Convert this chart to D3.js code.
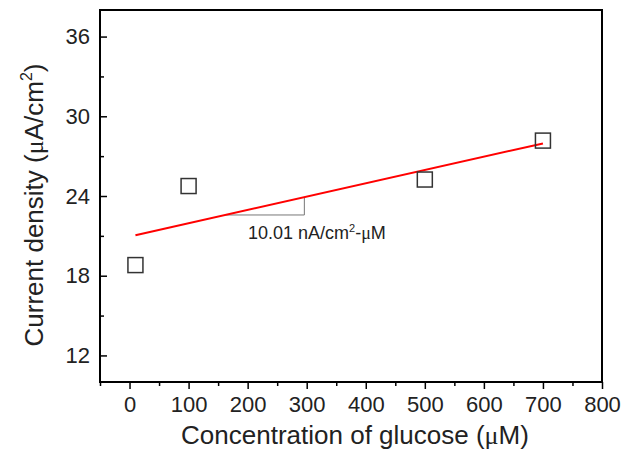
<!DOCTYPE html>
<html>
<head>
<meta charset="utf-8">
<script src="https://cdn.jsdelivr.net/npm/d3@7"></script>
<style>
  body { margin: 0; background: #fff; }
  text { font-family: Arial, "Liberation Sans", sans-serif; fill: #222; }
  .mu { font-family: "Liberation Serif", "DejaVu Serif", serif; }
</style>
</head>
<body>
<div id="app"></div>
<script>
// data
let concentration = [10, 100, 500, 700]
let currentDensity = [18.8, 24.75, 25.24, 28.17]
let xTicks = [0, 100, 200, 300, 400, 500, 600, 700, 800]
let yTicks = [12, 18, 24, 30, 36]
// linear fit (slope 10.01 nA/cm2-uM)
let fitRange = [10, 700]
let fitSlope = 0.01001
let fitIntercept = 20.95
let slopeMarkX = [162, 296]

let width = 632
let height = 453
let margin = {top: 10, right: 30, bottom: 71, left: 100}

let svg = d3.select("#app").append("svg")
    .attr("width", width)
    .attr("height", height)

let x = d3.scaleLinear().domain([-50, 800]).range([margin.left, width - margin.right])
let y = d3.scaleLinear().domain([10, 38]).range([height - margin.bottom, margin.top])
let fit = v => fitIntercept + fitSlope * v

// minor ticks first
svg.append("g")
    .attr("transform", "translate(0," + y.range()[0] + ")")
    .call(d3.axisBottom(x).tickValues(d3.range(-50, 801, 50).filter(v => v % 100 != 0)).tickSize(4).tickFormat(""))
    .call(g => g.select(".domain").remove())
svg.append("g")
    .attr("transform", "translate(" + x.range()[0] + ",0)")
    .call(d3.axisRight(y).tickValues([15, 21, 27, 33]).tickSize(4).tickFormat(""))
    .call(g => g.select(".domain").remove())

let xAxis = svg.append("g")
    .attr("transform", "translate(0," + y.range()[0] + ")")
    .call(d3.axisBottom(x).tickValues(xTicks).tickSize(7))
xAxis.select(".domain").remove()
xAxis.selectAll("text").attr("font-size", 22).attr("dy", null).attr("y", 30)

let yAxis = svg.append("g")
    .attr("transform", "translate(" + x.range()[0] + ",0)")
    .call(d3.axisRight(y).tickValues(yTicks).tickSize(7).tickFormat(d3.format("d")))
yAxis.select(".domain").remove()
yAxis.selectAll("text").attr("font-size", 22).attr("x", -10).attr("text-anchor", "end")

svg.selectAll(".tick line").attr("stroke", "#000").attr("stroke-width", 1.5)

// frame
svg.append("rect")
    .attr("x", x.range()[0])
    .attr("y", y.range()[1])
    .attr("width", x.range()[1] - x.range()[0])
    .attr("height", y.range()[0] - y.range()[1])
    .attr("fill", "none")
    .attr("stroke", "#000")
    .attr("stroke-width", 2)

// slope triangle
svg.append("path")
    .attr("d", d3.line()([
        [x(slopeMarkX[0]), y(fit(slopeMarkX[0]))],
        [x(slopeMarkX[1]), y(fit(slopeMarkX[0]))],
        [x(slopeMarkX[1]), y(fit(slopeMarkX[1]))]
    ]))
    .attr("fill", "none")
    .attr("stroke", "#777")
    .attr("stroke-width", 1)

// fit line
svg.append("line")
    .attr("x1", x(fitRange[0])).attr("y1", y(fit(fitRange[0])))
    .attr("x2", x(fitRange[1])).attr("y2", y(fit(fitRange[1])))
    .attr("stroke", "#f00")
    .attr("stroke-width", 2)

// points
let pts = concentration.map((c, i) => ({c: c, j: currentDensity[i]}))
svg.append("g").selectAll("rect")
    .data(pts)
    .enter().append("rect")
    .attr("x", d => x(d.c) - 7.5)
    .attr("y", d => y(d.j) - 7.5)
    .attr("width", 15)
    .attr("height", 15)
    .attr("fill", "none")
    .attr("stroke", "#333")
    .attr("stroke-width", 1.5)

// slope label
let lab = svg.append("text")
    .attr("x", 248)
    .attr("y", 239)
    .attr("font-size", 18)
lab.append("tspan").text("10.01 nA/cm")
lab.append("tspan").attr("font-size", 11).attr("dy", -7).text("2")
lab.append("tspan").attr("dy", 7).text("-")
lab.append("tspan").attr("class", "mu").text("μ")
lab.append("tspan").text("M")

// axis titles
let xt = svg.append("text")
    .attr("x", (x.range()[0] + x.range()[1]) / 2 + 4)
    .attr("y", 444)
    .attr("text-anchor", "middle")
    .attr("font-size", 26)
xt.append("tspan").text("Concentration of glucose (")
xt.append("tspan").attr("class", "mu").text("μ")
xt.append("tspan").text("M)")

let yt = svg.append("text")
    .attr("transform", "translate(43,205) rotate(-90)")
    .attr("text-anchor", "middle")
    .attr("font-size", 26)
yt.append("tspan").text("Current density (")
yt.append("tspan").attr("class", "mu").text("μ")
yt.append("tspan").text("A/cm")
yt.append("tspan").attr("font-size", 16).attr("dy", -11).text("2")
yt.append("tspan").attr("dy", 11).text(")")
</script>
</body>
</html>
